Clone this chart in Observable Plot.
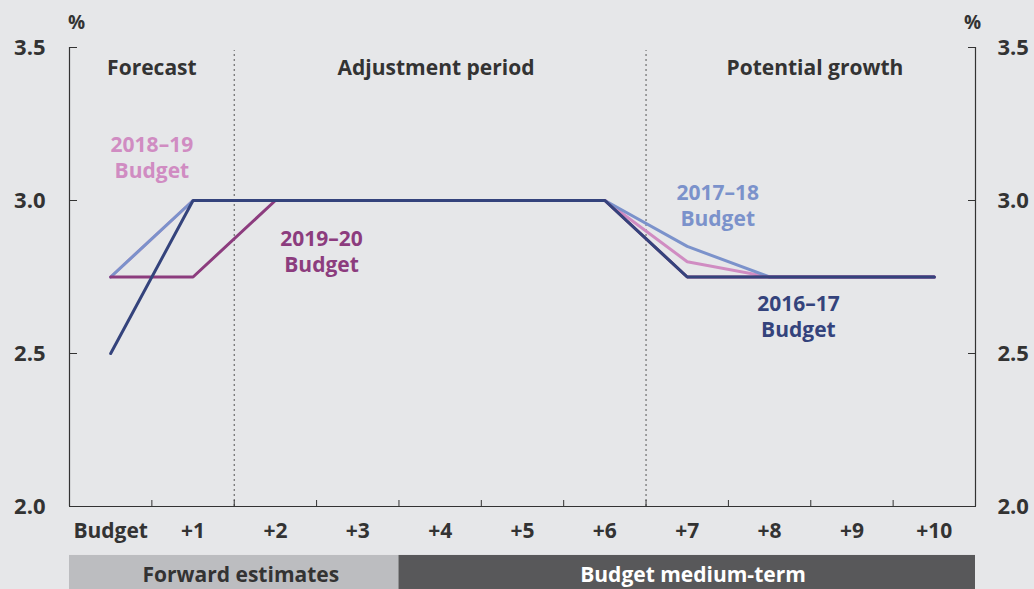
<!DOCTYPE html>
<html><head><meta charset="utf-8">
<script src="https://cdn.jsdelivr.net/npm/d3@7"></script>
<script src="https://cdn.jsdelivr.net/npm/@observablehq/plot@0.6"></script>
<style>
html,body{margin:0;padding:0;background:#e6e7e9;}
#chart{width:1034px;height:589px;overflow:hidden;}
</style></head><body><div id="chart"></div>
<script>
const categories = ["Budget","+1","+2","+3","+4","+5","+6","+7","+8","+9","+10"];
const seriesNames = ["2018–19 Budget","2017–18 Budget","2019–20 Budget","2016–17 Budget"];
const seriesYears = ["2018–19","2017–18","2019–20","2016–17"];
const b2018 = [2.75, 3.0, 3.0, 3.0, 3.0, 3.0, 3.0, 2.80, 2.75, 2.75, 2.75];
const b2017 = [2.75, 3.0, 3.0, 3.0, 3.0, 3.0, 3.0, 2.85, 2.75, 2.75, 2.75];
const b2019 = [2.75, 2.75, 3.0, 3.0, 3.0, 3.0, 3.0, 2.75, 2.75, 2.75, 2.75];
const b2016 = [2.5, 3.0, 3.0, 3.0, 3.0, 3.0, 3.0, 2.75, 2.75, 2.75, 2.75];
const yTicks = [2.0, 2.5, 3.0, 3.5];
const yTickLabels = ["2.0", "2.5", "3.0", "3.5"];
const periodNames = ["Forecast", "Adjustment period", "Potential growth"];
const bandNames = ["Forward estimates", "Budget medium-term"];

const colors = {"2018–19 Budget":"#d08cc2","2017–18 Budget":"#7b92cb","2019–20 Budget":"#8c3c7e","2016–17 Budget":"#34437c"};
const seriesValues = [b2018, b2017, b2019, b2016];
const FONT = "'Open Sans', Lato, sans-serif";
const dark = "#333333";

const rows = seriesValues.map((vals, s) => vals.map((v, i) => ({series: seriesNames[s], i, v})));

const boundaries = d3.range(10).map(i => i + 0.5);
const dividers = [1.5, 6.5];

const periods = [
  {label: periodNames[0], x: 0.5},
  {label: periodNames[1], x: 3.95},
  {label: periodNames[2], x: 8.55}
];
// label anchor positions (data coordinates) for series labels, same order as seriesNames
const labelPos = [
  {x: 0.5, y: 3.137},
  {x: 7.37, y: 2.98},
  {x: 2.56, y: 2.83},
  {x: 8.35, y: 2.618}
];
const seriesLabels = seriesNames.map((n, s) => ({year: seriesYears[s], x: labelPos[s].x, y: labelPos[s].y, c: colors[n]}));
const bands = [
  {label: bandNames[0], x1: -0.5, x2: 3.5, tx: 1.58, fill: "#bcbdc0", tc: "#333333"},
  {label: bandNames[1], x1: 3.5, x2: 10.5, tx: 7.07, fill: "#58585a", tc: "#ffffff"}
];

const FS = 21;
const chart = Plot.plot({
  width: 1034,
  height: 589,
  marginTop: 47,
  marginBottom: 83,
  marginLeft: 69,
  marginRight: 59,
  style: {background: "transparent", fontFamily: FONT, color: dark},
  x: {type: "linear", domain: [-0.5, 10.5], axis: null},
  y: {domain: [2.0, 3.5], axis: null},
  marks: [
    // bottom bands
    Plot.rect(bands, {x1: "x1", x2: "x2", y1: 1.84, y2: 1.7288, fill: "fill"}),
    Plot.text(bands, {x: "tx", y: 1.7745, text: "label", fill: "tc", fontSize: FS, fontWeight: 700, fontFamily: FONT}),
    // dividers
    Plot.ruleX(dividers, {y1: 2.0, y2: 3.49, stroke: "#555", strokeDasharray: "2,3", strokeWidth: 1}),
    // frame
    Plot.ruleX([-0.5, 10.5], {y1: 2.0, y2: 3.5, stroke: "#333", strokeWidth: 1.2}),
    Plot.ruleY([2.0], {x1: -0.5, x2: 10.5, stroke: "#333", strokeWidth: 1.2}),
    // y axes
    Plot.axisY(yTicks, {anchor: "left", tickSize: -8, tickPadding: 32, tickFormat: (d) => yTickLabels[yTicks.indexOf(d)], fontSize: 22, fontWeight: 700, fill: dark, stroke: "#333"}),
    Plot.axisY(yTicks, {anchor: "right", tickSize: -8, tickPadding: 30, tickFormat: (d) => yTickLabels[yTicks.indexOf(d)], fontSize: 22, fontWeight: 700, fill: dark, stroke: "#333"}),
    // x axis
    Plot.axisX(boundaries, {anchor: "bottom", tickSize: -6, tickFormat: () => "", stroke: "#333"}),
    Plot.axisX(d3.range(11), {anchor: "bottom", tickSize: 0, tickPadding: 17, tickFormat: (i) => categories[i], fontSize: FS, fontWeight: 700, fill: dark}),
    // % labels
    Plot.text(["%"], {x: -0.5, y: 3.5, dx: 7, dy: -25, text: d => d, fontSize: 19, fontWeight: 700, fill: dark}),
    Plot.text(["%"], {x: 10.5, y: 3.5, dx: -3, dy: -25, text: d => d, fontSize: 19, fontWeight: 700, fill: dark}),
    // period headings
    Plot.text(periods, {x: "x", y: 3.5, dy: 21, text: "label", fontSize: FS, fontWeight: 700, fill: dark}),
    // lines
    ...rows.map((r, s) => Plot.line(r, {x: "i", y: "v", stroke: colors[seriesNames[s]], strokeWidth: 3, strokeLinejoin: "miter"})),
    // series labels (two lines)
    Plot.text(seriesLabels, {x: "x", y: "y", dy: -13, text: "year", fill: "c", fontSize: FS, fontWeight: 700}),
    Plot.text(seriesLabels, {x: "x", y: "y", dy: 13, text: () => "Budget", fill: "c", fontSize: FS, fontWeight: 700})
  ]
});
document.getElementById("chart").appendChild(chart);
</script>
</body></html>
